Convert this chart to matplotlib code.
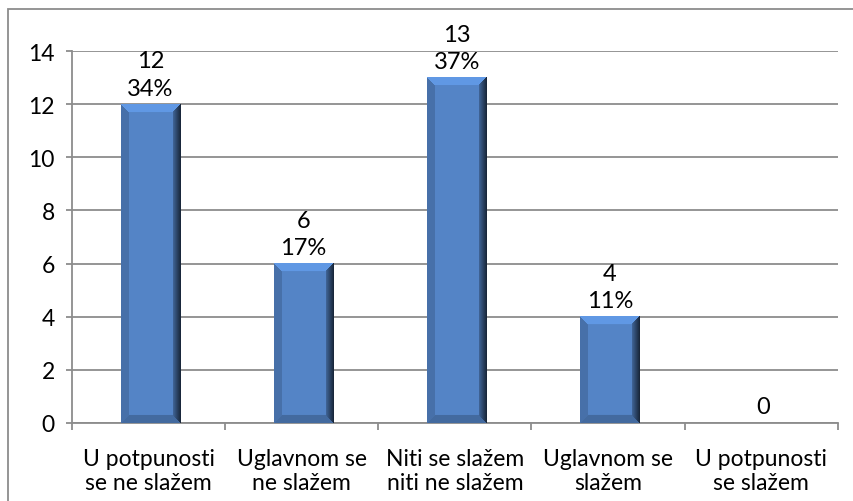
import numpy as np
import matplotlib
matplotlib.use("Agg")
import matplotlib.pyplot as plt
from matplotlib.patches import Rectangle

categories = ["U potpunosti\nse ne slažem", "Uglavnom se\nne slažem",
              "Niti se slažem\nniti ne slažem", "Uglavnom se\nslažem",
              "U potpunosti\nse slažem"]
counts = [12, 6, 13, 4, 0]
point_labels = ["12\n34%", "6\n17%", "13\n37%", "4\n11%", "0"]
y_ticks = [0, 2, 4, 6, 8, 10, 12, 14]

plt.rcParams['font.family'] = ['Lato', 'DejaVu Sans']

fig = plt.figure(figsize=(8.54, 5.02), dpi=100)
ax = fig.add_axes([0.0843, 0.1554, 0.8967, 0.741])

# outer chart border (only top and left visible in frame)
fig.add_artist(Rectangle((8 / 854, -0.1), 1.2, 1 - 10 / 502 + 0.1,
                         transform=fig.transFigure, fill=False,
                         edgecolor='#8c8c8c', linewidth=1.3))

x = np.arange(len(categories))
bars = ax.bar(x + 0.012, counts, width=0.39, color='#4a7ebb', zorder=3)


def bevel_image(w=60, h=200, b=8):
    # bevel shading: light top, dark right, slightly darker left/bottom
    base = np.array([0.33, 0.52, 0.78])
    img = np.tile(base, (h, w, 1))
    for i in range(h):
        for j in range(w):
            dt, db, dl, dr = i, h - 1 - i, j, w - 1 - j
            m = min(dt, db, dl, dr)
            if m >= b:
                continue
            if m == dr:
                f = 0.3 + 0.5 * dr / b
            elif m == dt:
                f = 1.15
            elif m == dl:
                f = 0.85
            else:
                f = 0.8
            img[i, j] = np.clip(base * f, 0, 1)
    return img


for bar in bars:
    h = bar.get_height()
    if h <= 0:
        continue
    x0 = bar.get_x()
    w = bar.get_width()
    px_h = int(h / 14 * 372)
    img = bevel_image(60, max(px_h, 20), 8)
    ax.imshow(img, extent=(x0, x0 + w, 0, h), aspect='auto', zorder=4,
              interpolation='bilinear')

for xi, c, lab in zip(x, counts, point_labels):
    ax.annotate(lab, (xi + 0.012, c), xytext=(0, 4), textcoords='offset points',
                ha='center', va='bottom', fontsize=17, linespacing=1.38,
                color='black', zorder=5)

ax.set_xlim(-0.5, len(categories) - 0.5)
ax.set_ylim(0, 14)
ax.set_yticks(y_ticks)
ax.yaxis.grid(True, color='#8c8c8c', linewidth=1.3, zorder=0)
ax.set_axisbelow(True)

ax.set_xticks(np.arange(len(categories) + 1) - 0.5)
ax.set_xticklabels([])
ax.set_xticks(x, minor=True)
ax.set_xticklabels(categories, minor=True, fontsize=16.5, linespacing=1.15)
ax.tick_params(axis='x', which='minor', length=0, pad=18)
ax.tick_params(axis='x', which='major', length=5, color='#8c8c8c', width=1.3)
ax.tick_params(axis='y', length=4.5, color='#8c8c8c', width=1.3, labelsize=16.5, pad=8)

for s in ['top', 'right']:
    ax.spines[s].set_visible(False)
ax.spines['left'].set_color('#8c8c8c')
ax.spines['bottom'].set_color('#8c8c8c')
ax.spines['left'].set_linewidth(1.3)
ax.spines['bottom'].set_linewidth(1.3)

fig.savefig("out.png", dpi=100)
